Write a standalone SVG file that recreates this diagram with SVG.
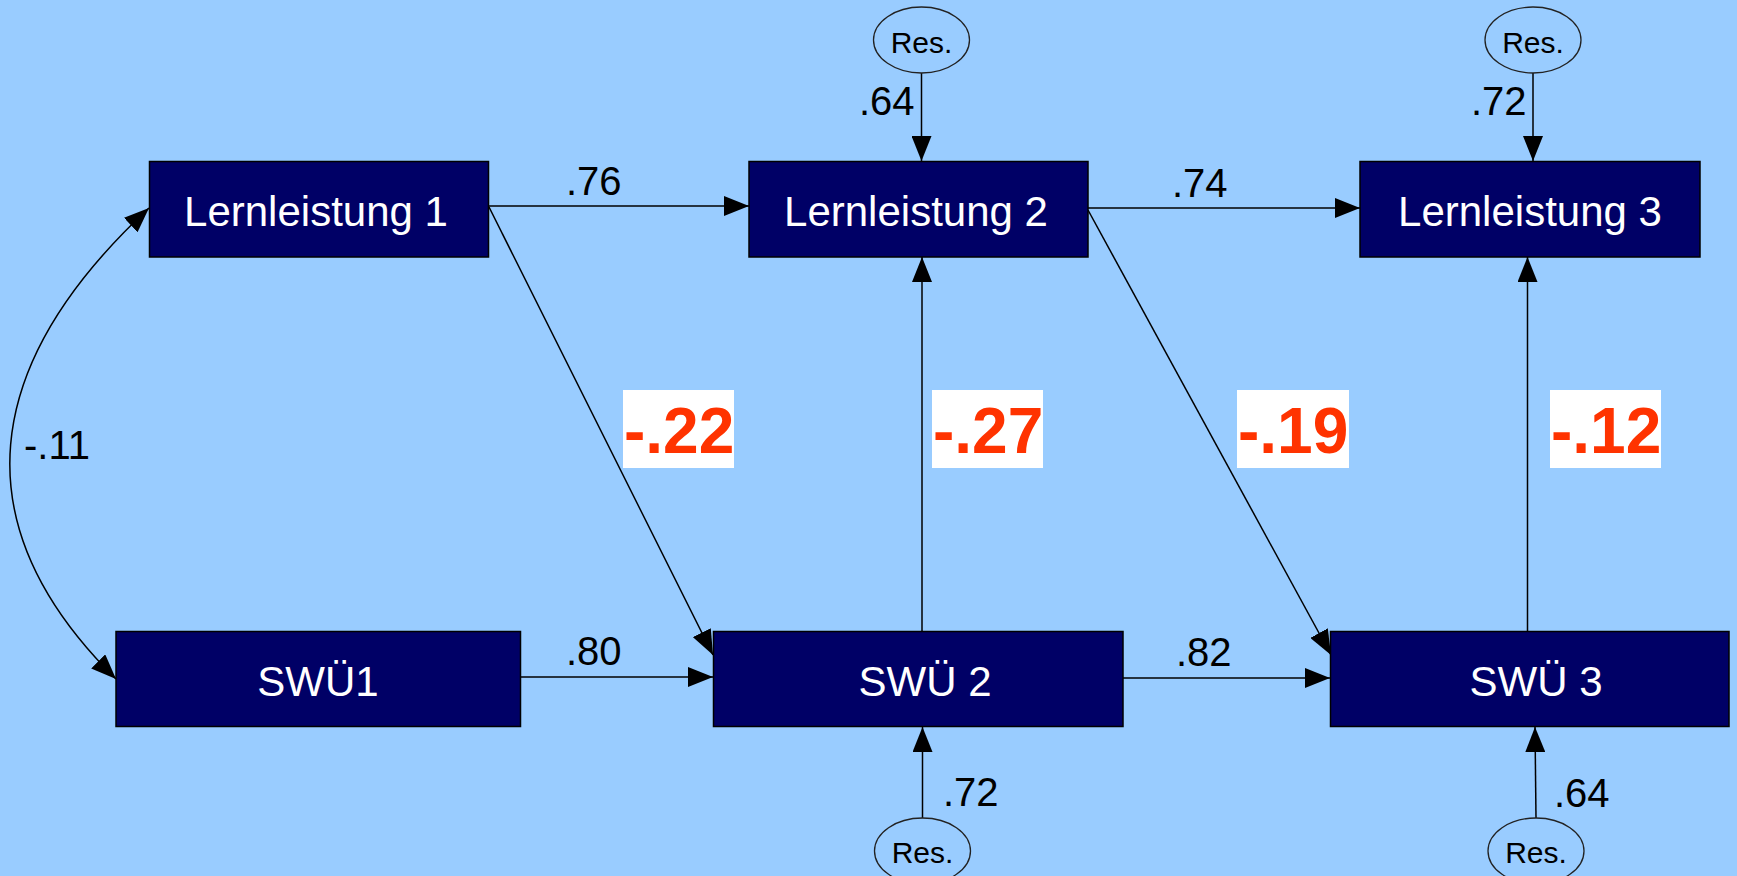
<svg xmlns="http://www.w3.org/2000/svg" width="1737" height="876" viewBox="0 0 1737 876">
<defs>
<marker id="ah" markerUnits="userSpaceOnUse" markerWidth="26" markerHeight="20" refX="25" refY="10" orient="auto-start-reverse" viewBox="0 0 26 20">
<path d="M0,0 L25,10 L0,20 z" fill="#000"/>
</marker>
<style>
.box{fill:#000066;stroke:#000;stroke-width:1.5}
.bt{font-family:"Liberation Sans",Arial,sans-serif;font-size:42px;fill:#fff;text-anchor:middle}
.res{fill:none;stroke:#222;stroke-width:1.3}
.rt{font-family:"Liberation Sans",Arial,sans-serif;font-size:30px;fill:#000;text-anchor:middle}
.num{font-family:"Liberation Sans",Arial,sans-serif;font-size:40px;fill:#000}
.red{font-family:"Liberation Sans",Arial,sans-serif;font-size:64px;font-weight:bold;fill:#FF3300}
.lab{fill:#fff}
.c{fill:none;stroke:#000;stroke-width:1.5;marker-end:url(#ah)}
</style>
</defs>
<rect width="1737" height="876" fill="#99CCFF"/>

<g id="connectors">
<line class="c" x1="921.5" y1="73" x2="921.5" y2="161"/>
<line class="c" x1="1533" y1="73" x2="1533" y2="161"/>
<line class="c" x1="922.5" y1="818" x2="922.5" y2="727"/>
<line class="c" x1="1536" y1="818" x2="1535" y2="727"/>
<line class="c" x1="489" y1="206" x2="749" y2="206"/>
<line class="c" x1="1088" y1="208" x2="1360" y2="208"/>
<line class="c" x1="521" y1="677" x2="713" y2="677"/>
<line class="c" x1="1123" y1="678" x2="1330" y2="678"/>
<line class="c" x1="489" y1="207" x2="713" y2="655"/>
<line class="c" x1="1088" y1="210" x2="1331" y2="655"/>
<line class="c" x1="922" y1="631" x2="922" y2="257"/>
<line class="c" x1="1527.5" y1="631" x2="1527.5" y2="257"/>
<path class="c" d="M149,208 C-20,365 -40,525 116,679" marker-start="url(#ah)"/>
</g>

<g id="labels">
<text class="num" x="566" y="195">.76</text>
<text class="num" x="1172" y="197">.74</text>
<text class="num" x="566" y="665">.80</text>
<text class="num" x="1176" y="666">.82</text>
<text class="num" x="859" y="115">.64</text>
<text class="num" x="1471" y="115">.72</text>
<text class="num" x="943" y="806">.72</text>
<text class="num" x="1554" y="807">.64</text>
<text class="num" x="24" y="459">-.11</text>
<rect class="lab" x="623" y="390" width="111" height="78"/>
<text class="red" x="624" y="453">-.22</text>
<rect class="lab" x="932" y="390" width="111" height="78"/>
<text class="red" x="933" y="453">-.27</text>
<rect class="lab" x="1237" y="390" width="112" height="78"/>
<text class="red" x="1238" y="453">-.19</text>
<rect class="lab" x="1550" y="390" width="111" height="78"/>
<text class="red" x="1551" y="453">-.12</text>
</g>

<g id="lernleistung1"><rect class="box" x="149.5" y="161.5" width="339" height="95.5"/><text class="bt" x="316" y="226">Lernleistung 1</text></g>
<g id="lernleistung2"><rect class="box" x="749" y="161.5" width="339" height="95.5"/><text class="bt" x="916" y="226">Lernleistung 2</text></g>
<g id="lernleistung3"><rect class="box" x="1360" y="161.5" width="340" height="95.5"/><text class="bt" x="1530" y="226">Lernleistung 3</text></g>
<g id="swu1"><rect class="box" x="116" y="631.5" width="404.5" height="95"/><text class="bt" x="318" y="696">SWÜ1</text></g>
<g id="swu2"><rect class="box" x="713.5" y="631.5" width="409.5" height="95"/><text class="bt" x="925" y="696">SWÜ 2</text></g>
<g id="swu3"><rect class="box" x="1330.5" y="631.5" width="398.5" height="95"/><text class="bt" x="1536" y="696">SWÜ 3</text></g>

<g id="res_l2"><ellipse class="res" cx="921.5" cy="40" rx="48" ry="33"/><text class="rt" x="921.5" y="53">Res.</text></g>
<g id="res_l3"><ellipse class="res" cx="1533" cy="40" rx="48" ry="33"/><text class="rt" x="1533" y="53">Res.</text></g>
<g id="res_s2"><ellipse class="res" cx="922.5" cy="851" rx="48" ry="33"/><text class="rt" x="922.5" y="863">Res.</text></g>
<g id="res_s3"><ellipse class="res" cx="1536" cy="851" rx="48" ry="33"/><text class="rt" x="1536" y="863">Res.</text></g>
</svg>
